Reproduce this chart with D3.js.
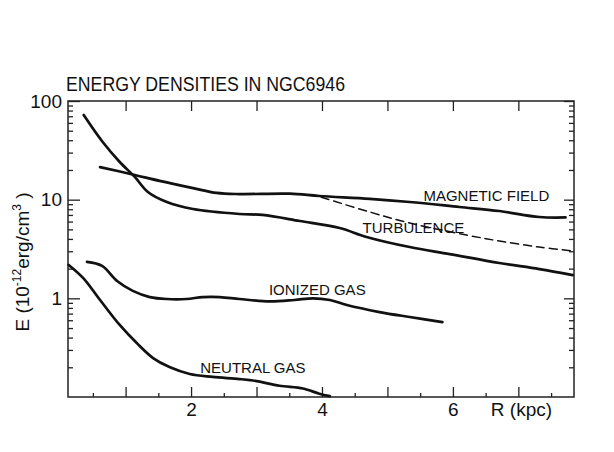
<!DOCTYPE html>
<html>
<head>
<meta charset="utf-8">
<script src="https://cdn.jsdelivr.net/npm/d3@7"></script>
<style>
  body { margin: 0; background: #fff; }
  text { font-family: "Liberation Sans", Arial, sans-serif; fill: #111; }
</style>
</head>
<body>
<div id="wrapper"></div>
<script>
// curves, R in kpc, E in 1e-12 erg/cm^3
const magR  = [0.61, 1.14, 1.52, 2.03, 2.39, 2.74, 3.51, 3.96, 4.73, 5.34, 6.10, 6.71, 7.32, 7.72]
const magE  = [21.4, 17.8, 15.5, 13.1, 11.7, 11.4, 11.5, 10.9, 10.2, 9.47, 8.43, 7.67, 6.67, 6.6]

const turbR = [0.36, 0.65, 0.91, 1.14, 1.34, 1.63, 2.03, 2.74, 3.09, 3.66, 4.27, 4.68, 5.34, 5.95, 6.71, 7.32, 7.83]
const turbE = [72.1, 38.4, 24.1, 17.0, 11.97, 9.47, 8.04, 7.16, 7.0, 6.08, 5.16, 4.19, 3.31, 2.81, 2.28, 1.98, 1.72]

const dashR = [3.99, 4.73, 5.34, 6.21, 6.71, 7.32, 7.83]
const dashE = [10.6, 7.5, 5.80, 4.38, 3.81, 3.31, 3.02]

const ionR  = [0.41, 0.64, 0.87, 1.11, 1.37, 1.63, 1.93, 2.18, 2.44, 2.74, 3.20, 3.58, 3.86, 4.12, 4.38, 4.88, 5.34, 5.84]
const ionE  = [2.34, 2.13, 1.50, 1.19, 1.03, 0.984, 0.984, 1.03, 1.03, 0.984, 0.93, 0.962, 1.0, 0.962, 0.855, 0.726, 0.647, 0.575]

const neuR  = [0.13, 0.35, 0.61, 0.91, 1.17, 1.42, 1.67, 1.98, 2.33, 2.74, 3.00, 3.35, 3.71, 3.96, 4.12]
const neuE  = [2.18, 1.61, 0.962, 0.537, 0.352, 0.248, 0.201, 0.171, 0.160, 0.152, 0.145, 0.130, 0.122, 0.108, 0.102]

const xMajor = [1, 2, 3, 4, 5, 6, 7]
const xMinor = [0.5, 1.5, 2.5, 3.5, 4.5, 5.5, 6.5, 7.5]
const xLabels = [2, 4, 6]
const yMajor = [1, 10, 100]
const yMinor = [0.2, 0.3, 0.4, 0.5, 0.6, 0.7, 0.8, 0.9, 2, 3, 4, 5, 6, 7, 8, 9, 20, 30, 40, 50, 60, 70, 80, 90]

const curveNames = ["MAGNETIC FIELD", "TURBULENCE", "IONIZED GAS", "NEUTRAL GAS"]
const nameR = [5.55, 4.62, 3.19, 2.14]
const nameE = [9.75, 4.56, 1.08, 0.176]

let dimensions = {
  width: 614,
  height: 452,
  margin: {
    top: 101,
    right: 40,
    bottom: 55,
    left: 68,
  },
}
dimensions.boundedWidth = dimensions.width
  - dimensions.margin.left
  - dimensions.margin.right
dimensions.boundedHeight = dimensions.height
  - dimensions.margin.top
  - dimensions.margin.bottom

const wrapper = d3.select("#wrapper")
  .append("svg")
    .attr("width", dimensions.width)
    .attr("height", dimensions.height)

wrapper.append("rect")
  .attr("width", dimensions.width)
  .attr("height", dimensions.height)
  .attr("fill", "#fff")

const bounds = wrapper.append("g")
  .attr("transform", `translate(${dimensions.margin.left},${dimensions.margin.top})`)

const xScale = d3.scaleLinear()
  .domain([0.12, 7.85])
  .range([0, dimensions.boundedWidth])

const yScale = d3.scaleLog()
  .domain([0.1, 100])
  .range([dimensions.boundedHeight, 0])

// ticks
const noDomain = g => g.select(".domain").remove()

bounds.append("g")
  .attr("transform", `translate(0,${dimensions.boundedHeight})`)
  .call(d3.axisBottom(xScale).tickValues(xMajor).tickSize(-10).tickPadding(6)
    .tickFormat(d => xLabels.includes(d) ? d : ""))
  .call(noDomain)
  .call(g => g.selectAll("text").style("font-size", "19px").attr("fill", "#111"))
bounds.append("g")
  .attr("transform", `translate(0,${dimensions.boundedHeight})`)
  .call(d3.axisBottom(xScale).tickValues(xMinor.filter(d => d < 7.85)).tickSize(-4).tickFormat(""))
  .call(noDomain)
bounds.append("g")
  .call(d3.axisTop(xScale).tickValues(xMajor).tickSize(-10).tickFormat(""))
  .call(noDomain)

bounds.append("g")
  .call(d3.axisLeft(yScale).tickValues(yMajor).tickSize(-12).tickPadding(6).tickFormat(d3.format("d")))
  .call(noDomain)
  .call(g => g.selectAll("text").style("font-size", "19px").attr("fill", "#111"))
bounds.append("g")
  .call(d3.axisLeft(yScale).tickValues(yMinor).tickSize(-5).tickFormat(""))
  .call(noDomain)
bounds.append("g")
  .attr("transform", `translate(${dimensions.boundedWidth},0)`)
  .call(d3.axisRight(yScale).tickValues(yMajor).tickSize(-10).tickFormat(""))
  .call(noDomain)
bounds.append("g")
  .attr("transform", `translate(${dimensions.boundedWidth},0)`)
  .call(d3.axisRight(yScale).tickValues(yMinor).tickSize(-5).tickFormat(""))
  .call(noDomain)

bounds.selectAll(".tick line").attr("stroke", "#222").attr("stroke-width", 1.3)

bounds.append("rect")
  .attr("width", dimensions.boundedWidth)
  .attr("height", dimensions.boundedHeight)
  .attr("fill", "none")
  .attr("stroke", "#222")
  .attr("stroke-width", 1.5)

// curves
const lineGen = d3.line()
  .x(d => xScale(d[0]))
  .y(d => yScale(d[1]))
  .curve(d3.curveCatmullRom.alpha(0.5))

const drawCurve = (rs, es, dashed) => bounds.append("path")
  .datum(d3.zip(rs, es))
  .attr("d", lineGen)
  .attr("fill", "none")
  .attr("stroke", "#111")
  .attr("stroke-width", dashed ? 1.5 : 2.7)
  .attr("stroke-dasharray", dashed ? "8,5" : null)
  .attr("stroke-linecap", "round")

drawCurve(magR, magE)
drawCurve(turbR, turbE)
drawCurve(dashR, dashE, true)
drawCurve(ionR, ionE)
drawCurve(neuR, neuE)

bounds.selectAll(".curve-name")
  .data(curveNames)
  .join("text")
    .attr("class", "curve-name")
    .attr("x", (d, i) => xScale(nameR[i]))
    .attr("y", (d, i) => yScale(nameE[i]))
    .style("font-size", "15px")
    .text(d => d)

// title and axis labels
wrapper.append("text")
  .attr("x", 66)
  .attr("y", 91)
  .attr("textLength", 279)
  .attr("lengthAdjust", "spacingAndGlyphs")
  .style("font-size", "20px")
  .text("ENERGY DENSITIES IN NGC6946")

wrapper.append("text")
  .attr("x", dimensions.margin.left + xScale(6.58))
  .attr("y", dimensions.margin.top + dimensions.boundedHeight + 6)
  .attr("dy", "0.71em")
  .style("font-size", "19px")
  .text("R (kpc)")

const yLabel = wrapper.append("text")
  .attr("transform", "translate(29,262) rotate(-90)")
  .attr("text-anchor", "middle")
  .style("font-size", "19px")
yLabel.append("tspan").text("E (10")
yLabel.append("tspan").attr("dy", -8).style("font-size", "12px").text("-12")
yLabel.append("tspan").attr("dy", 8).text("erg/cm")
yLabel.append("tspan").attr("dy", -8).style("font-size", "12px").text("3")
yLabel.append("tspan").attr("dy", 8).text(" )")
</script>
</body>
</html>
